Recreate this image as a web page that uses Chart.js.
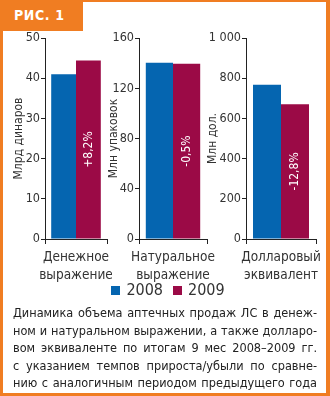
<!DOCTYPE html>
<html>
<head>
<meta charset="utf-8">
<script src="https://cdn.jsdelivr.net/npm/chart.js@4.4.1/dist/chart.umd.min.js"></script>
<style>
  body { margin: 0; width: 330px; height: 396px; overflow: hidden; background: #fff;
         font-family: "DejaVu Sans Condensed", "Liberation Sans Narrow", sans-serif; color: #333; }
  #frame { position: absolute; left: 0; top: 0; width: 330px; height: 396px; box-sizing: border-box;
           border: solid #f07d22; border-width: 2px 4px 3px 3px; }
  #tag { position: absolute; left: 0; top: 0; width: 69px; height: 31px; padding-left: 14px;
         background: #f07d22; color: #fff; font-weight: bold; font-size: 14px; letter-spacing: 0.6px; line-height: 30px; }
  .box { position: absolute; }
  #legend { position: absolute; left: 0; top: 280px; width: 336px; text-align: center; font-size: 16px; line-height: 20px; }
  #legend span.sq { display: inline-block; width: 9px; height: 9px; margin: 0 6px 0 0; }
  #legend span.item { margin: 0 5px; }
  #caption { position: absolute; left: 13px; top: 304px; width: 304px; font-size: 12.6px; line-height: 17.5px; color: #222; }
  #caption div { text-align: justify; text-align-last: justify; white-space: nowrap; }
</style>
</head>
<body>
<div id="frame"></div>
<div id="tag">РИС. 1</div>
<div class="box" style="left:3px;top:30px;width:109px;height:253px"><canvas id="c0"></canvas></div>
<div class="box" style="left:98px;top:30px;width:124px;height:253px"><canvas id="c1"></canvas></div>
<div class="box" style="left:197px;top:30px;width:126px;height:253px"><canvas id="c2"></canvas></div>
<div id="legend"></div>
<div id="caption">
  <div>Динамика объема аптечных продаж ЛС в денеж-</div>
  <div>ном и натуральном выражении, а также долларо-</div>
  <div>вом эквиваленте по итогам 9 мес 2008–2009 гг.</div>
  <div>с указанием темпов прироста/убыли по сравне-</div>
  <div>нию с аналогичным периодом предыдущего года</div>
</div>
<script>
const years = ['2008', '2009'];
const categories = [['Денежное', 'выражение'], ['Натуральное', 'выражение'], ['Долларовый', 'эквивалент']];
const axisTitles = ['Млрд динаров', 'Млн упаковок', 'Млн дол.'];
const values2008 = [41.0, 140.3, 768];
const values2009 = [44.4, 139.6, 670];
const changes = ['+8,2%', '-0,5%', '-12,8%'];
const yMax = [50, 160, 1000];
const yStep = [10, 40, 200];

const colors = ['#0565b0', '#9b0a46'];
const font = '"DejaVu Sans Condensed", "Liberation Sans Narrow", sans-serif';
const axisWidth = [42, 41, 49];
const padRight = [5, 15, 7];

// percent labels, rotated, in the middle of the 2009 bar
const barText = {
  id: 'barText',
  afterDatasetsDraw(chart, args, opts) {
    const bar = chart.getDatasetMeta(1).data[0];
    const ctx = chart.ctx;
    ctx.save();
    ctx.translate(bar.x, (bar.y + bar.base) / 2);
    ctx.rotate(-Math.PI / 2);
    ctx.fillStyle = '#fff';
    ctx.font = '12px ' + font;
    ctx.textAlign = 'center';
    ctx.textBaseline = 'middle';
    ctx.fillText(opts.text, 0, 0);
    ctx.restore();
  }
};

for (let i = 0; i < 3; i++) {
  new Chart(document.getElementById('c' + i), {
    type: 'bar',
    data: {
      labels: [categories[i]],
      datasets: [
        { label: years[0], data: [values2008[i]], backgroundColor: colors[0] },
        { label: years[1], data: [values2009[i]], backgroundColor: colors[1] }
      ]
    },
    options: {
      responsive: true,
      maintainAspectRatio: false,
      animation: false,
      datasets: { bar: { barPercentage: 1, categoryPercentage: 0.8 } },
      layout: { padding: { top: 8, right: padRight[i], bottom: 0, left: 0 } },
      plugins: {
        legend: { display: false },
        tooltip: { enabled: false },
        barText: { text: changes[i] }
      },
      scales: {
        x: {
          afterFit: s => { s.height = 44; s.paddingLeft = 0; s.paddingRight = 0; },
          border: { color: '#222', width: 1 },
          grid: { offset: true, drawOnChartArea: false, color: '#222', tickLength: 5 },
          ticks: { color: '#333', padding: 4, font: { family: font, size: 13.5, lineHeight: 1.35 } }
        },
        y: {
          min: 0, max: yMax[i],
          afterFit: s => { s.width = axisWidth[i]; s.paddingTop = 0; s.paddingBottom = 0; },
          border: { color: '#222', width: 1 },
          grid: { drawOnChartArea: false, color: '#222', tickLength: 4 },
          ticks: {
            stepSize: yStep[i], color: '#333', padding: 1,
            font: { family: font, size: 12.5 },
            callback: v => String(v).replace(/\B(?=(\d{3})+$)/g, ' ')
          },
          title: { display: true, text: axisTitles[i], color: '#333', padding: { top: 9, bottom: 0 },
                   font: { family: font, size: 12 } }
        }
      }
    },
    plugins: [barText]
  });
}

// legend built from the series names
const legend = document.getElementById('legend');
years.forEach((y, k) => {
  const item = document.createElement('span');
  item.className = 'item';
  item.innerHTML = '<span class="sq" style="background:' + colors[k] + '"></span>' + y;
  legend.appendChild(item);
});
</script>
</body>
</html>
